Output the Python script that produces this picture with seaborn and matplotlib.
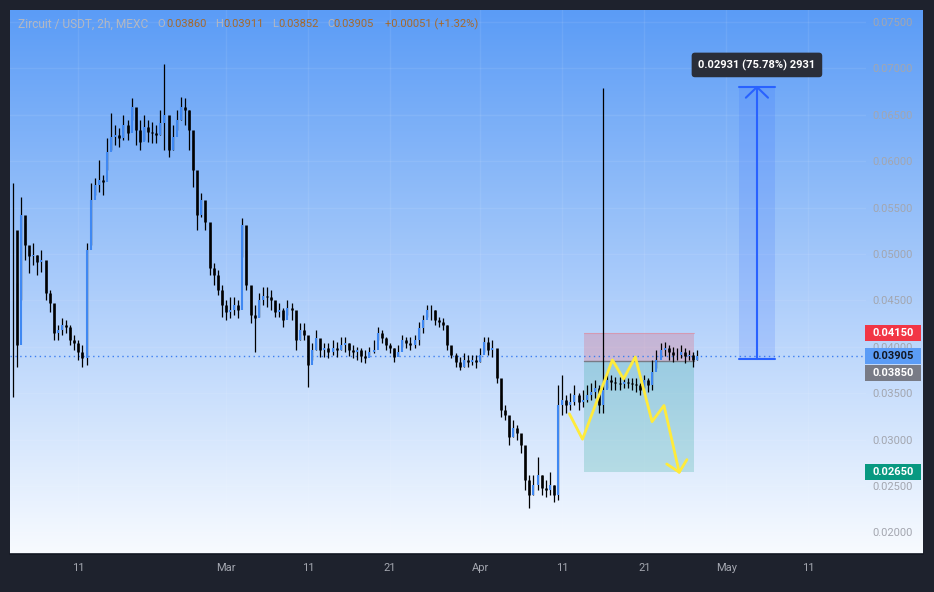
import numpy as np
import pandas as pd
import matplotlib
matplotlib.use("Agg")
import matplotlib.pyplot as plt
import matplotlib.transforms as mtransforms
from matplotlib.patches import Rectangle
from matplotlib.lines import Line2D
import seaborn as sns

sns.set_theme(style="white")
plt.rcParams["font.family"] = ["Roboto", "DejaVu Sans"]

# ---- candles (12h steps from Feb 3 2025) ----
start_time = "2025-02-03 00:00"
close = [0.05259, 0.04019, 0.0542, 0.05097, 0.04978, 0.04989, 0.04914, 0.04935, 0.0458, 0.04472,
         0.04149, 0.04181, 0.04235, 0.04213, 0.04073, 0.04041, 0.03944, 0.03879, 0.05043, 0.05582,
         0.05744, 0.05797, 0.05776, 0.06099, 0.06261, 0.06282, 0.0625, 0.0639, 0.06304, 0.06584,
         0.06336, 0.06207, 0.06369, 0.06315, 0.06304, 0.06282, 0.06412, 0.06498, 0.06121, 0.06261,
         0.06444, 0.06584, 0.06552, 0.06336, 0.05905, 0.0542, 0.05582, 0.05345, 0.04849, 0.04774,
         0.04612, 0.0445, 0.04375, 0.04397, 0.0445, 0.04397, 0.05312, 0.04666, 0.04343, 0.0431,
         0.04504, 0.04547, 0.04536, 0.04504, 0.04375, 0.04397, 0.04289, 0.04418, 0.04397, 0.04073,
         0.04181, 0.04127, 0.03804, 0.03966, 0.04095, 0.03966, 0.03987, 0.03944, 0.03987, 0.03966,
         0.04019, 0.04041, 0.03966, 0.03944, 0.03966, 0.03901, 0.03879, 0.03944, 0.03966, 0.04149,
         0.04095, 0.04019, 0.03987, 0.0389, 0.03944, 0.04073, 0.04041, 0.04019, 0.04073, 0.04203,
         0.04289, 0.04397, 0.04397, 0.04289, 0.04267, 0.04235, 0.04019, 0.03912, 0.03836, 0.03782,
         0.03858, 0.03836, 0.03858, 0.03836, 0.03912, 0.04052, 0.03966, 0.03987, 0.03664, 0.03319,
         0.03265, 0.03028, 0.03125, 0.03071, 0.02942, 0.02565, 0.02403, 0.02511, 0.02619, 0.02478,
         0.02457, 0.02511, 0.02403, 0.03373, 0.03427, 0.03373, 0.03405, 0.03481, 0.03405, 0.03427,
         0.03481, 0.03513, 0.03556, 0.03373, 0.03534, 0.03642, 0.03621, 0.0361, 0.03599, 0.03621,
         0.0361, 0.03599, 0.03588, 0.03534, 0.03642, 0.03588, 0.03728, 0.03858, 0.03966, 0.03987,
         0.03944, 0.03912, 0.03912, 0.03944, 0.03901, 0.03912, 0.03858, 0.03905]
high = [0.05765, 0.04687, 0.05614, 0.05334, 0.05043, 0.05119, 0.04989, 0.05043, 0.04881, 0.04612,
        0.0445, 0.04235, 0.0431, 0.04289, 0.04235, 0.04127, 0.04073, 0.04019, 0.05119, 0.05765,
        0.05819, 0.06013, 0.05851, 0.0625, 0.06519, 0.0639, 0.06358, 0.06498, 0.06444, 0.06681,
        0.06552, 0.06444, 0.06498, 0.06444, 0.06422, 0.0639, 0.06552, 0.07047, 0.06282, 0.0639,
        0.06552, 0.06692, 0.06681, 0.06552, 0.06228, 0.0569, 0.05657, 0.05442, 0.05259, 0.04903,
        0.04828, 0.04666, 0.04504, 0.04537, 0.04537, 0.04504, 0.05388, 0.05043, 0.04612, 0.0445,
        0.0458, 0.04644, 0.04644, 0.04612, 0.04472, 0.04472, 0.04418, 0.04504, 0.04472, 0.04343,
        0.04256, 0.04256, 0.04073, 0.04041, 0.04181, 0.04073, 0.04041, 0.04041, 0.04073, 0.04052,
        0.04106, 0.04106, 0.04041, 0.04019, 0.03998, 0.03987, 0.03966, 0.03998, 0.04073, 0.04213,
        0.04181, 0.04106, 0.04041, 0.03987, 0.04019, 0.04127, 0.04106, 0.04106, 0.04127, 0.04267,
        0.04343, 0.0445, 0.0445, 0.04397, 0.04321, 0.0431, 0.04235, 0.03987, 0.03933, 0.0389,
        0.03933, 0.03912, 0.03912, 0.03912, 0.03987, 0.04106, 0.04106, 0.04073, 0.03933, 0.03481,
        0.03373, 0.03157, 0.03211, 0.03157, 0.03028, 0.02888, 0.02619, 0.02619, 0.02812, 0.02619,
        0.02565, 0.02651, 0.02511, 0.03588, 0.03696, 0.03481, 0.03502, 0.03588, 0.03502, 0.03534,
        0.03588, 0.0361, 0.03642, 0.03588, 0.06789, 0.03728, 0.03696, 0.03675, 0.03675, 0.03675,
        0.03664, 0.03664, 0.03664, 0.0361, 0.03696, 0.03664, 0.03858, 0.03966, 0.04041, 0.04052,
        0.04019, 0.03998, 0.03987, 0.04019, 0.03987, 0.03966, 0.03944, 0.03966]
low = [0.03459, 0.03782, 0.04504, 0.04935, 0.04795, 0.04881, 0.04774, 0.04806, 0.04504, 0.04375,
       0.04073, 0.04073, 0.04127, 0.04149, 0.04019, 0.03966, 0.03858, 0.03782, 0.03804, 0.05097,
       0.05636, 0.05668, 0.05636, 0.05905, 0.06121, 0.06175, 0.06153, 0.06228, 0.06228, 0.06444,
       0.06175, 0.06121, 0.06228, 0.06207, 0.06196, 0.06196, 0.06282, 0.06121, 0.06045, 0.06121,
       0.06336, 0.06444, 0.0639, 0.06121, 0.05722, 0.05259, 0.05399, 0.05259, 0.04774, 0.04666,
       0.04558, 0.04321, 0.04289, 0.0431, 0.04343, 0.0431, 0.04968, 0.04612, 0.04256, 0.03944,
       0.04321, 0.0445, 0.04429, 0.04397, 0.04321, 0.04321, 0.04213, 0.04343, 0.04289, 0.03966,
       0.04073, 0.04073, 0.03567, 0.03858, 0.03966, 0.0389, 0.0389, 0.03879, 0.03912, 0.0389,
       0.03966, 0.03944, 0.03901, 0.03879, 0.03858, 0.03836, 0.03825, 0.03912, 0.03933, 0.04073,
       0.04041, 0.03966, 0.03933, 0.03836, 0.03901, 0.03998, 0.03987, 0.03966, 0.03987, 0.04019,
       0.04149, 0.04321, 0.04289, 0.04235, 0.04213, 0.04181, 0.03966, 0.03879, 0.03782, 0.0375,
       0.03782, 0.03782, 0.03804, 0.03772, 0.03836, 0.03944, 0.03912, 0.0389, 0.0361, 0.03244,
       0.03211, 0.02942, 0.03028, 0.02996, 0.02856, 0.02457, 0.02263, 0.02403, 0.02457, 0.02403,
       0.02381, 0.02403, 0.02328, 0.02349, 0.03265, 0.03287, 0.03319, 0.03373, 0.03319, 0.03351,
       0.03405, 0.03427, 0.03448, 0.03287, 0.03287, 0.03556, 0.03534, 0.03534, 0.03534, 0.03556,
       0.03556, 0.03534, 0.03513, 0.03481, 0.03556, 0.03513, 0.03534, 0.03772, 0.0389, 0.03901,
       0.03858, 0.03836, 0.03858, 0.03879, 0.03825, 0.03858, 0.03782, 0.03858]

# short position tool
pos_start, pos_end = "2025-04-13 16:00", "2025-04-27 02:00"
stop_price, entry_price, target_price = 0.0415, 0.0385, 0.0265
last_price = 0.03905

# yellow projected path
path_time = ["2025-04-11 21:00", "2025-04-13 11:30", "2025-04-17 03:00", "2025-04-18 11:30",
             "2025-04-19 22:00", "2025-04-21 23:00", "2025-04-23 10:00", "2025-04-25 06:30"]
path_price = [0.03278, 0.03004, 0.03858, 0.03653, 0.0389, 0.03193, 0.03367, 0.02648]
head_time = ["2025-04-23 18:00", "2025-04-25 06:30", "2025-04-26 05:00"]
head_price = [0.02737, 0.02648, 0.02784]

# measure tool
meas_start, meas_mid, meas_end = "2025-05-02 13:30", "2025-05-04 18:00", "2025-05-06 23:00"
meas_lo, meas_hi = 0.03868, 0.06799
meas_text = "0.02931 (75.78%) 2931"

price_ticks = [0.020, 0.025, 0.030, 0.035, 0.040, 0.045, 0.050, 0.055, 0.060, 0.065, 0.070, 0.075]
date_ticks = ["2025-02-11", "2025-03-01", "2025-03-11", "2025-03-21", "2025-04-01",
              "2025-04-11", "2025-04-21", "2025-05-01", "2025-05-11"]
date_labels = ["11", "Mar", "11", "21", "Apr", "11", "21", "May", "11"]

ref = pd.Timestamp("2025-03-01")


def day(t):
    return (pd.Timestamp(t) - ref) / pd.Timedelta(days=1)


times = pd.date_range(start_time, periods=len(close), freq="12h")
d = np.array([(t - ref) / pd.Timedelta(days=1) for t in times])
c = np.array(close)
o = np.r_[c[0], c[:-1]]
up = c >= o

W, H = 934, 592
fig = plt.figure(figsize=(W / 100, H / 100), dpi=100, facecolor="#1e222d")

# background gradient panel
bg = fig.add_axes([10 / W, 1 - 581 / H, 913 / W, 571 / H])
bg.set_facecolor("white")
grad = np.linspace(0, 1, 256)[:, None]
cmap = matplotlib.colors.LinearSegmentedColormap.from_list("g", ["#5b9cf6", "#f8fbff"])
bg.imshow(grad, aspect="auto", cmap=cmap, extent=[0, 1, 27 / 571, 1],
          transform=bg.transAxes)
bg.set_xlim(0, 1)
bg.set_ylim(0, 1)
bg.axis("off")

ax = fig.add_axes([10 / W, 1 - 554 / H, 856 / W, 544 / H])
ax.set_facecolor("none")
ax.set_xlim(-26.34, 78.05)
ax.set_ylim(0.01767, 0.07629)
for s in ax.spines.values():
    s.set_visible(False)

ax.set_yticks(price_ticks)
ax.set_yticklabels([f"{p:.5f}" for p in price_ticks])
ax.yaxis.tick_right()
ax.set_xticks([day(t) for t in date_ticks])
ax.set_xticklabels(date_labels)
ax.tick_params(axis="y", length=0, pad=4.3, labelsize=8, labelcolor="#a3a6af")
ax.tick_params(axis="x", length=0, pad=6.5, labelsize=8, labelcolor="#a3a6af")
ax.grid(True, color="white", alpha=0.08, lw=1)

# position tool
x0, x1 = day(pos_start), day(pos_end)
ax.add_patch(Rectangle((x0, entry_price), x1 - x0, stop_price - entry_price,
                       fc="#f23645", alpha=0.2, ec="none", zorder=1))
ax.add_patch(Rectangle((x0, target_price), x1 - x0, entry_price - target_price,
                       fc="#089981", alpha=0.2, ec="none", zorder=1))
ax.plot([x0, x1], [entry_price, entry_price], color="#787b86", lw=1, zorder=1.5)
ax.plot([x0, x1], [stop_price, stop_price], color="#e08a9a", lw=0.8, alpha=0.6, zorder=1.5)

# last price dotted line
ax.axhline(last_price, color="#3d7ff0", lw=1, ls=(0, (1, 2.5)), zorder=1.5)

# candles: wicks then bodies
ax.vlines(d, low, high, color="black", lw=0.9, zorder=3)
ax.vlines(d[~up], np.minimum(o, c)[~up], np.maximum(o, c)[~up], color="black", lw=1.9, zorder=3)
ax.vlines(d[up], np.minimum(o, c)[up], np.maximum(o, c)[up], color="#3f88f2", lw=1.5, zorder=3)

# yellow path
sns.lineplot(x=[day(t) for t in path_time], y=path_price, color="#ffeb3b", lw=2,
             ax=ax, zorder=4, sort=False)
sns.lineplot(x=[day(t) for t in head_time], y=head_price, color="#ffeb3b", lw=2,
             ax=ax, zorder=4, sort=False)

# measure tool
m0, mm, m1 = day(meas_start), day(meas_mid), day(meas_end)
ax.add_patch(Rectangle((m0, meas_lo), m1 - m0, meas_hi - meas_lo,
                       fc="#2962ff", alpha=0.15, ec="none", zorder=2))
ax.plot([m0, m1], [meas_lo, meas_lo], color="#2962ff", lw=1.5, zorder=4)
ax.plot([m0, m1], [meas_hi, meas_hi], color="#2962ff", lw=1.5, zorder=4)
ax.plot([mm, mm], [meas_lo, meas_hi], color="#2962ff", lw=1.5, zorder=4)
ax.plot([mm - 1.35, mm, mm + 1.35], [meas_hi - 0.00115, meas_hi, meas_hi - 0.00115],
        color="#2962ff", lw=1.5, zorder=4)
ax.text(mm, meas_hi + 0.00238, meas_text, ha="center", va="center", color="white",
        fontsize=8, fontweight="bold", zorder=6,
        bbox=dict(boxstyle="round,pad=0.6,rounding_size=0.3", fc="#2a2e39", ec="none"))

# price labels on the axis
blend = mtransforms.blended_transform_factory(ax.transAxes, ax.transData)
box_h = 16 / 9280
for price, shown, fc, tc in [(stop_price, stop_price, "#f23645", "white"),
                             (last_price, last_price, "#5b9cf6", "#131722"),
                             (entry_price, 0.03718, "#787b86", "white"),
                             (target_price, target_price, "#089981", "white")]:
    ax.add_patch(Rectangle((0.9988, shown - box_h / 2), 0.0655, box_h, transform=blend,
                           fc=fc, ec="none", clip_on=False, zorder=8))
    ax.text(1.0075, shown, f"{price:.5f}", transform=blend, ha="left", va="center",
            color=tc, fontsize=8, fontweight="bold", clip_on=False, zorder=9)

# x axis line
fig.add_artist(Line2D([10 / W, 923 / W], [1 - 554 / H] * 2, transform=fig.transFigure,
                      color="#131722", lw=1.2))

# header
gray, brown = "#b4b8c2", "#a5692c"
hy = 1 - 24 / H
for x, txt, col, fs in [(18, "Zircuit / USDT, 2h, MEXC", gray, 8.6),
                        (157, "O", gray, 8), (166, "0.03860", brown, 8),
                        (215, "H", gray, 8), (223, "0.03911", brown, 8),
                        (272, "L", gray, 8), (278, "0.03852", brown, 8),
                        (327, "C", gray, 8), (333, "0.03905", brown, 8),
                        (385, "+0.00051 (+1.32%)", brown, 8)]:
    fig.text(x / W, hy, txt, color=col, fontsize=fs, ha="left", va="center")

fig.savefig("out.png", dpi=100, facecolor=fig.get_facecolor())
